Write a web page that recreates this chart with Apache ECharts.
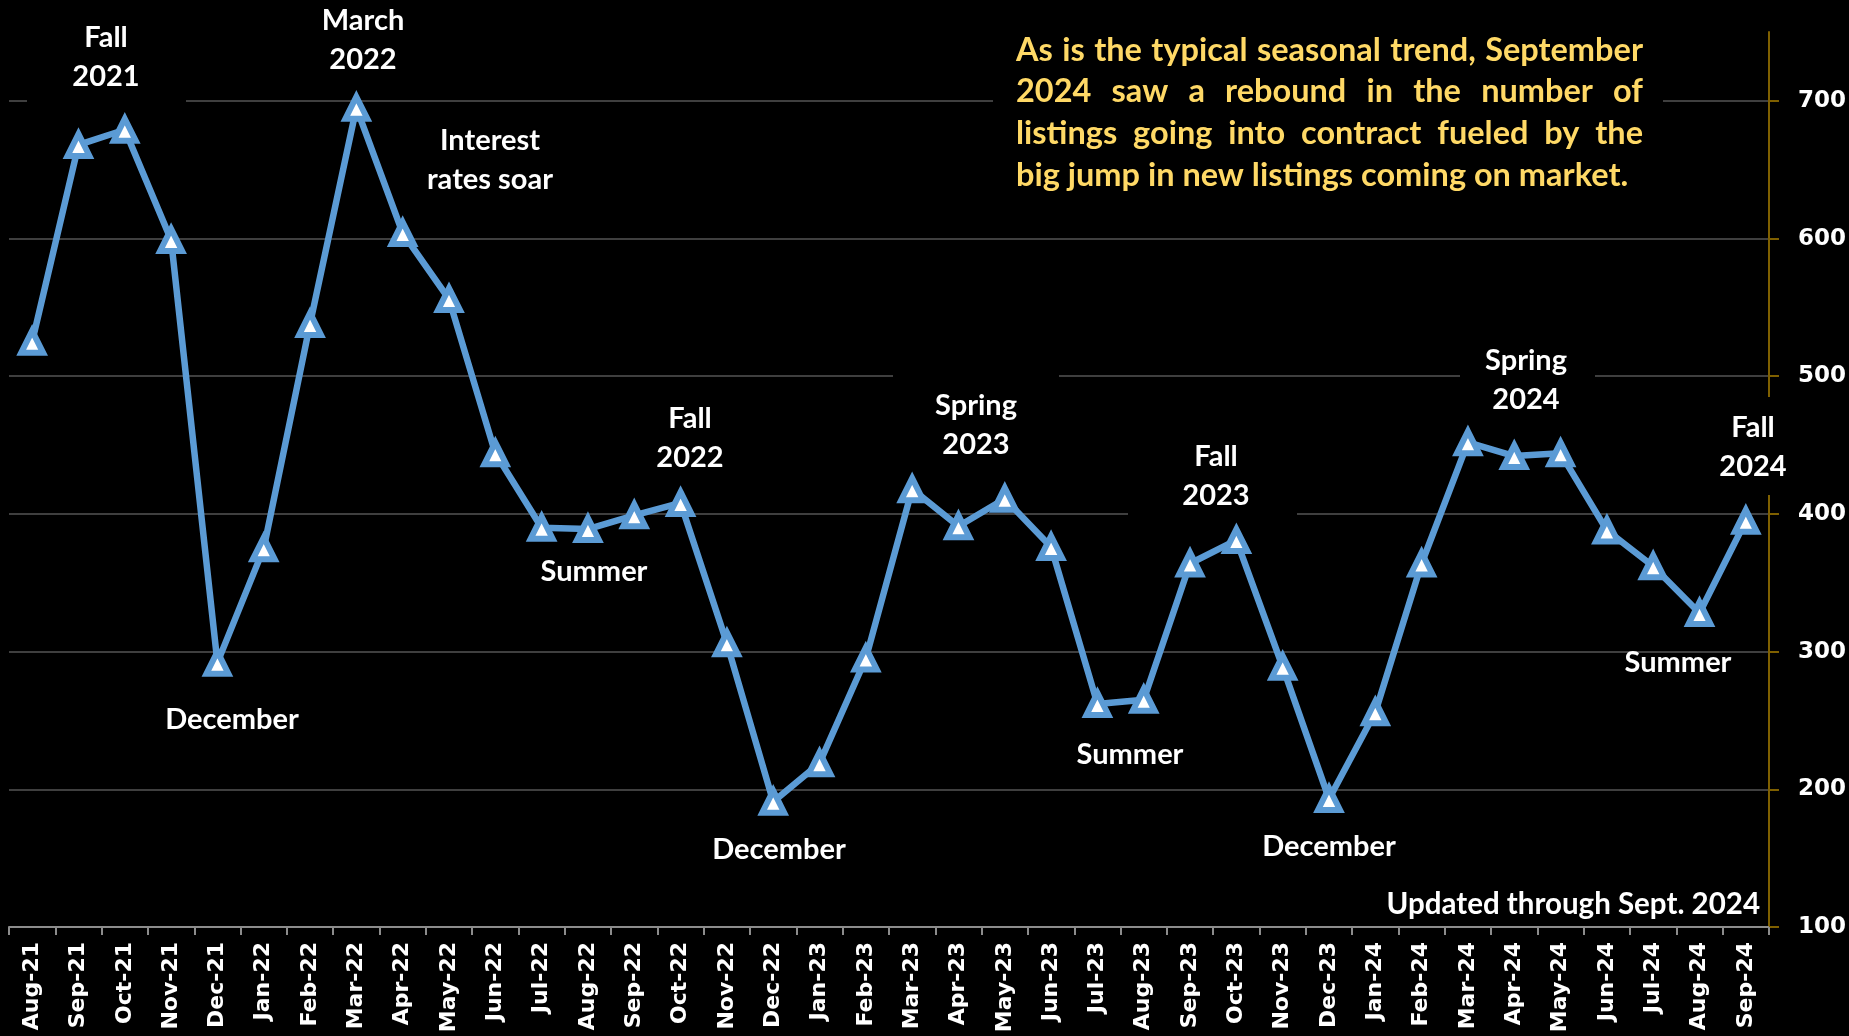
<!DOCTYPE html>
<html><head><meta charset="utf-8">
<script src="https://cdn.jsdelivr.net/npm/echarts@6/dist/echarts.min.js"></script>
<style>html,body{margin:0;padding:0;background:#000;}#c{width:1849px;height:1036px;}</style>
</head><body><div id="c"></div>
<script>
// ---- data ----
const months = ['Aug-21','Sep-21','Oct-21','Nov-21','Dec-21','Jan-22','Feb-22','Mar-22','Apr-22','May-22','Jun-22','Jul-22','Aug-22','Sep-22','Oct-22','Nov-22','Dec-22','Jan-23','Feb-23','Mar-23','Apr-23','May-23','Jun-23','Jul-23','Aug-23','Sep-23','Oct-23','Nov-23','Dec-23','Jan-24','Feb-24','Mar-24','Apr-24','May-24','Jun-24','Jul-24','Aug-24','Sep-24'];
const contracts = [525,668,679,599,292,375,538,695,604,556,444,390,389,399,408,306,191,219,295,418,391,411,376,262,265,364,381,289,193,256,364,452,442,444,388,362,328,395];
const yTickValues = [100,200,300,400,500,600,700];
const noteLines = [
  'As is the typical seasonal trend, September',
  '2024 saw a rebound in the number of',
  'listings going into contract fueled by the',
  'big jump in new listings coming on market.'
];
const labelTexts = ['Fall\n2021','March\n2022','Interest\nrates soar','December','Summer','Fall\n2022','December','Spring\n2023','Summer','Fall\n2023','December','Spring\n2024','Summer','Fall\n2024'];
const footnote = 'Updated through Sept. 2024';

// ---- layout (pixel placement of annotations) ----
const labelPos = [[106,57],[363,40],[490,160],[232,720],[594,572],[690,438],[779,850],[976,425],[1130,755],[1216,476],[1329,847],[1526,380],[1678,663],[1753,447]];
const maskBoxes = [[27,14,159,92],[893,368,166,80],[1460,340,135,78],[1128,436,169,86],[1690,397,135,98],[993,20,670,180]];

const chart = echarts.init(document.getElementById('c'), null, {renderer:'canvas'});
const graphics = [];
maskBoxes.forEach(b => graphics.push({type:'rect', z:1, shape:{x:b[0],y:b[1],width:b[2],height:b[3]}, style:{fill:'#000'}, silent:true}));
labelTexts.forEach((t,i) => graphics.push({type:'text', z:2, x:labelPos[i][0], y:labelPos[i][1],
  style:{text:t, fill:'#ffffff', font:'bold 29px Lato', align:'center', verticalAlign:'middle', textAlign:'center', textVerticalAlign:'middle', lineHeight:39}}));
graphics.push({type:'text', z:2, x:1760, y:904, style:{text:footnote, fill:'#ffffff', font:'bold 29.5px Lato', align:'right', verticalAlign:'middle', textAlign:'right', textVerticalAlign:'middle'}});

// justified yellow note
const yFont = 'bold 32.5px Lato';
const ctx = document.createElement('canvas').getContext('2d');
ctx.font = yFont;
const noteLeft = 1016, noteRight = 1643, noteYs = [51,92,134,176];
noteLines.forEach((ln,i) => {
  const st = {fill:'#ffd966', font:yFont, align:'left', verticalAlign:'middle', textAlign:'left', textVerticalAlign:'middle'};
  if (i === noteLines.length-1) {
    graphics.push({type:'text', z:2, x:noteLeft, y:noteYs[i], style:Object.assign({text:ln}, st)});
  } else {
    const words = ln.split(' ');
    const widths = words.map(w => ctx.measureText(w).width);
    const total = widths.reduce((a,b)=>a+b,0);
    const gap = (noteRight-noteLeft-total)/(words.length-1);
    let x = noteLeft;
    words.forEach((w,j) => {
      graphics.push({type:'text', z:2, x:x, y:noteYs[i], style:Object.assign({text:w}, st)});
      x += widths[j] + gap;
    });
  }
});

const gridCol = '#3f3f3f';
const option = {
  backgroundColor:'#000',
  animation:false,
  grid:{left:9, right:76, top:32, bottom:109, containLabel:false},
  xAxis:{
    type:'category', data:months, boundaryGap:true,
    axisLine:{show:true, lineStyle:{color:'#8c8c8c', width:2}},
    axisTick:{show:true, length:8, lineStyle:{color:'#8c8c8c', width:2}},
    axisLabel:{rotate:90, color:'#ffffff', fontFamily:'DejaVu Sans', fontWeight:'bold', fontSize:22, margin:15, interval:0},
    splitLine:{show:false}
  },
  yAxis:{
    type:'value', position:'right', min:100, max:750, interval:100,
    axisLine:{show:true, lineStyle:{color:'#7f6000', width:2}},
    axisTick:{show:true, length:10, customValues:yTickValues, lineStyle:{color:'#7f6000', width:2}},
    axisLabel:{color:'#ffffff', fontFamily:'DejaVu Sans', fontWeight:'bold', fontSize:23, margin:29, customValues:yTickValues},
    splitLine:{show:true, lineStyle:{color:[gridCol,gridCol,gridCol,gridCol,gridCol,gridCol,gridCol,'rgba(0,0,0,0)'], width:2}}
  },
  series:[{
    type:'line', data:contracts, z:5,
    lineStyle:{color:'#5b9bd5', width:6.5, join:'round'},
    symbol:'triangle', symbolSize:22,
    itemStyle:{color:'#ffffff', borderColor:'#5b9bd5', borderWidth:6},
    emphasis:{disabled:true}
  }],
  graphic:{elements:graphics}
};
chart.setOption(option);
</script></body></html>
